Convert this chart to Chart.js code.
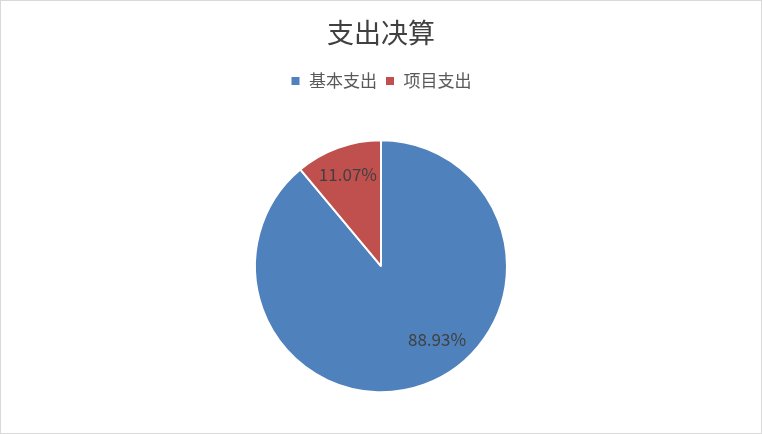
<!DOCTYPE html>
<html>
<head>
<meta charset="utf-8">
<script src="https://cdn.jsdelivr.net/npm/chart.js@4"></script>
<style>
  html, body { margin: 0; padding: 0; background: #fff; }
  .wrap { width: 762px; height: 434px; box-sizing: border-box; border: 1px solid #d9d9d9; }
</style>
</head>
<body>
<div class="wrap"><canvas id="pieChart"></canvas></div>
<script>
// Expenditure split
const categories = ['基本支出', '项目支出'];
const shares = [88.93, 11.07];
const sliceColors = ['#4f81bd', '#c0504d'];
// label placement inside each slice: [fraction of slice angle, fraction of radius]
const labelSpots = [[0.445, 0.73], [0.5, 0.77]];

const cjk = '"Noto Sans CJK SC", "Noto Sans", sans-serif';

// Draw the percentage labels on the slices
const sliceLabels = {
    id: 'sliceLabels',
    afterDatasetsDraw(chart) {
        const ctx = chart.ctx;
        const meta = chart.getDatasetMeta(0);
        ctx.save();
        ctx.font = '17px ' + cjk;
        ctx.fillStyle = '#404040';
        ctx.textAlign = 'center';
        ctx.textBaseline = 'middle';
        meta.data.forEach(function (arc, i) {
            const p = arc.getProps(['x', 'y', 'startAngle', 'endAngle', 'outerRadius'], true);
            const spot = labelSpots[i];
            const a = p.startAngle + (p.endAngle - p.startAngle) * spot[0];
            const r = p.outerRadius * spot[1];
            ctx.fillText(shares[i].toFixed(2) + '%', p.x + Math.cos(a) * r, p.y + Math.sin(a) * r);
        });
        ctx.restore();
    }
};

new Chart(document.getElementById('pieChart'), {
    type: 'pie',
    data: {
        labels: categories,
        datasets: [{
            data: shares,
            backgroundColor: sliceColors,
            borderColor: '#ffffff',
            borderWidth: 2,
            radius: 126
        }]
    },
    options: {
        responsive: true,
        maintainAspectRatio: false,
        animation: false,
        layout: { padding: { bottom: 0 } },
        plugins: {
            title: {
                display: true,
                text: '支出决算',
                color: '#404040',
                font: { family: cjk, size: 27, weight: 'normal' },
                padding: { top: 16, bottom: 15 }
            },
            legend: {
                position: 'top',
                labels: {
                    color: '#595959',
                    font: { family: cjk, size: 17 },
                    boxWidth: 10,
                    boxHeight: 10,
                    padding: 8
                }
            },
            tooltip: { enabled: false }
        }
    },
    plugins: [sliceLabels]
});
</script>
</body>
</html>
